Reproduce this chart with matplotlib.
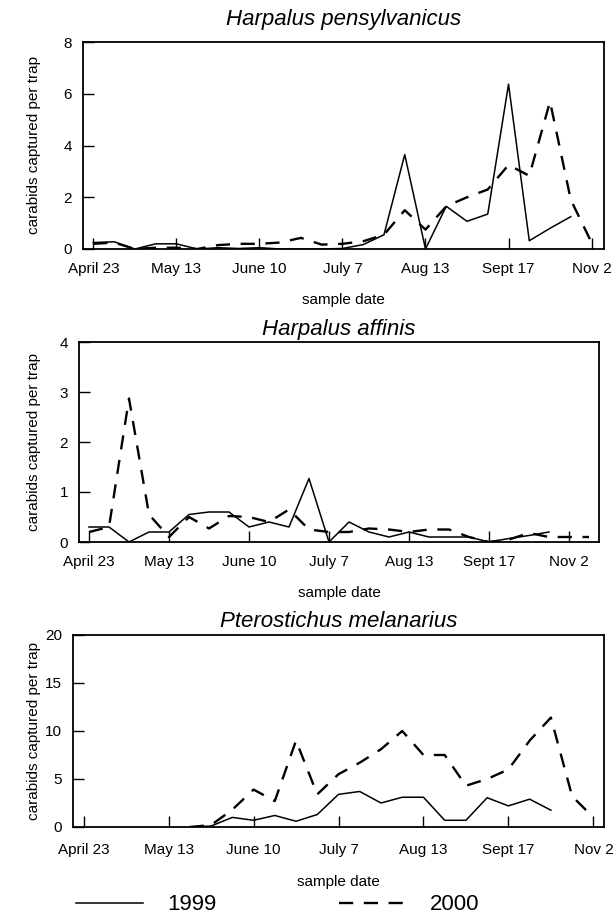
import numpy as np
import matplotlib
matplotlib.use('Agg')
import matplotlib.pyplot as plt
from matplotlib.lines import Line2D

plt.rcParams['font.family'] = ['Liberation Sans', 'DejaVu Sans']

nan = np.nan

date_labels = ['April 23', 'May 13', 'June 10', 'July 7', 'Aug 13', 'Sept 17', 'Nov 2']
years = ['1999', '2000']

# Harpalus pensylvanicus, one value per sample
pens_1999 = [0.25, 0.28, 0.0, 0.2, 0.2, 0.0, 0.05, 0.02, 0.05, 0.0, 0.0, 0.0, 0.02,
             0.17, 0.55, 3.65, 0.0, 1.65, 1.07, 1.35, 6.37, 0.32, 0.8, 1.25, nan]
pens_2000 = [0.2, 0.25, 0.0, 0.05, 0.05, 0.0, 0.15, 0.2, 0.2, 0.25, 0.43, 0.17, 0.2,
             0.3, 0.55, 1.5, 0.75, 1.65, 2.0, 2.3, 3.25, 2.83, 5.7, 1.9, 0.25]

# Harpalus affinis
aff_1999 = [0.3, 0.3, 0.0, 0.2, 0.2, 0.55, 0.6, 0.6, 0.3, 0.4, 0.3, 1.27, 0.0,
            0.4, 0.2, 0.1, 0.2, 0.1, 0.1, 0.1, 0.0, 0.07, 0.13, 0.2, nan, nan]
aff_2000 = [0.2, 0.3, 2.87, 0.55, 0.1, 0.5, 0.27, 0.52, 0.5, 0.4, 0.65, 0.25, 0.2,
            0.2, 0.27, 0.25, 0.2, 0.25, 0.25, 0.1, 0.0, 0.05, 0.18, 0.1, 0.1, 0.1]

# Pterostichus melanarius
mel_1999 = [nan, nan, nan, nan, nan, 0.0, 0.1, 1.0, 0.7, 1.2, 0.6, 1.3, 3.4,
            3.7, 2.5, 3.1, 3.1, 0.7, 0.7, 3.05, 2.2, 2.9, 1.75, nan, nan]
mel_2000 = [nan, nan, nan, nan, nan, 0.0, 0.2, 1.8, 3.9, 2.7, 9.0, 3.4, 5.5,
            6.7, 8.1, 10.0, 7.5, 7.5, 4.3, 5.0, 6.0, 9.0, 11.4, 3.2, 1.0]

# title, series, y ticks, right x limit, box in pixels (left, top, right, bottom),
# title pad, x tick pad (to baseline), x label pad
panels = [
    ('Harpalus pensylvanicus', pens_1999, pens_2000, [0, 2, 4, 6, 8], 24.6,
     [83, 42, 604, 249], 12, 17.5, 12),
    ('Harpalus affinis', aff_1999, aff_2000, [0, 1, 2, 3, 4], 25.5,
     [79, 342, 599, 542], 5, 17.5, 12),
    ('Pterostichus melanarius', mel_1999, mel_2000, [0, 5, 10, 15, 20], 24.5,
     [73, 635, 604, 827], 6, 19.5, 13),
]

W, H = 614, 923
fig = plt.figure(figsize=(W / 100, H / 100), dpi=100)

solid_kw = dict(color='black', lw=1.1, linestyle='-')
dash_kw = dict(color='black', lw=1.7, linestyle=(0, (6, 4.5)))

for title, y99, y00, yticks, xmax, (l, t, r, b), tpad, xpad, lpad in panels:
    ax = fig.add_axes([l / W, 1 - b / H, (r - l) / W, (b - t) / H])
    ax.plot(np.arange(len(y99)), y99, **solid_kw)
    ax.plot(np.arange(len(y00)), y00, **dash_kw)

    ax.set_xlim(-0.5, xmax)
    ax.set_ylim(yticks[0], yticks[-1])
    ax.set_yticks(yticks)
    ax.set_xticks(np.arange(0, 25, 4))
    ax.set_xticklabels(date_labels, va='baseline')
    ax.tick_params(direction='in', length=8, width=1, labelsize=11, color='black')
    ax.tick_params(axis='x', pad=xpad)
    ax.tick_params(axis='y', pad=8)
    for sp in ax.spines.values():
        sp.set_linewidth(1.3)

    ax.set_title(title, fontsize=16, style='italic', pad=tpad)
    ax.set_xlabel('sample date', fontsize=11, labelpad=lpad)
    fig.text(34 / W, 1 - (t + b) / 2 / H, 'carabids captured per trap',
             rotation=90, ha='center', va='center', fontsize=11)

handles = [Line2D([], [], **solid_kw), Line2D([], [], **dash_kw)]
fig.legend(handles, years, loc='center', bbox_to_anchor=(278 / W, 1 - 905 / H),
           ncol=2, frameon=False, fontsize=16, handlelength=3.0,
           handletextpad=1.1, columnspacing=5.5)

plt.savefig('out.png', dpi=100)
